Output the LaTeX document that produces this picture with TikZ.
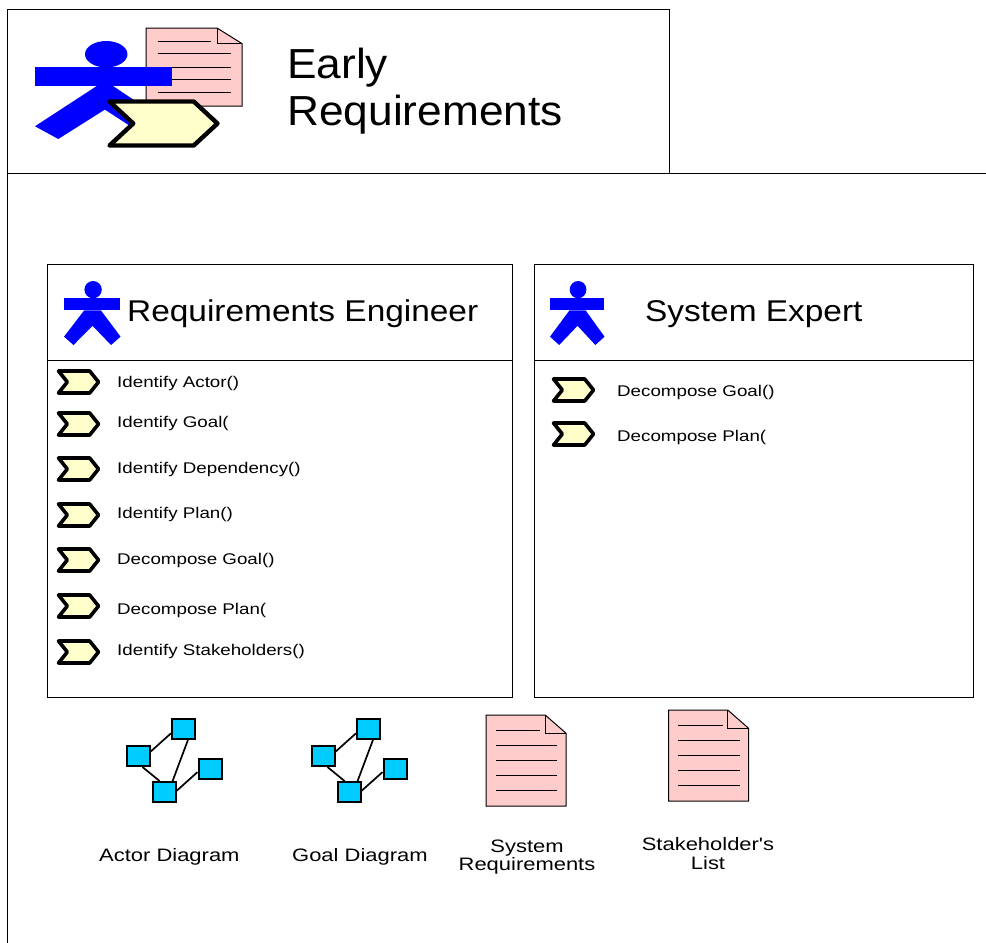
\documentclass[tikz,border=0pt]{standalone}
\usepackage{fontspec}
\setmainfont{Liberation Sans}
\newfontfamily\titlefont[FakeStretch=1.054]{Liberation Sans}
\newfontfamily\headfont[FakeStretch=1.114]{Liberation Sans}
\newfontfamily\itemfont[FakeStretch=1.21]{Liberation Sans}
\newfontfamily\labelfont[FakeStretch=1.22]{Liberation Sans}
\usetikzlibrary{positioning}
\definecolor{actorblue}{RGB}{0, 0, 255}
\definecolor{docpink}{RGB}{255, 204, 204}
\definecolor{planyellow}{RGB}{255, 255, 204}
\definecolor{nodecyan}{RGB}{0, 204, 255}
\tikzset{
  framed/.style={draw=black, line width=1pt},
  titletext/.style={anchor=base west, inner sep=0pt, font=\titlefont\fontsize{42}{46}\selectfont},
  headtext/.style={anchor=base west, inner sep=0pt, font=\headfont\fontsize{30}{34}\selectfont},
  itemtext/.style={anchor=base west, inner sep=0pt, font=\itemfont\fontsize{15.5}{18}\selectfont},
  labeltext/.style={anchor=base west, inner sep=0pt, font=\labelfont\fontsize{18}{18}\selectfont},
  centertext/.style={anchor=base, inner sep=0pt, font=\labelfont\fontsize{18}{18}\selectfont},
  netbox/.style={draw=black, line width=2pt, fill=nodecyan, minimum width=23pt, minimum height=20pt, inner sep=0pt},
  netline/.style={draw=black, line width=1.7pt},
  pics/actoricon/.style={code={
    \fill[actorblue] (0.52,0.135) ellipse [x radius=0.155, y radius=0.135];
    \fill[actorblue] (0,0.265) rectangle (1,0.46);
    \fill[actorblue] (#1,0.46) -- (0,0.87) -- (0.17,1) -- (0.51,0.7) -- (0.84,1) -- (1.01,0.87) -- ({1.02-#1},0.46) -- cycle;
  }},
  docicon/.pic={
    \draw[fill=docpink, line width=1pt] (0,0) -- (0.74,0) -- (1,0.2) -- (1,1) -- (0,1) -- cycle;
    \draw[line width=1pt] (0.74,0) -- (0.74,0.2) -- (1,0.2);
    \draw[line width=0.8pt] (0.12,0.17) -- (0.68,0.17);
    \foreach \y in {0.33,0.5,0.66,0.83} {
      \draw[line width=0.8pt] (0.12,\y) -- (0.89,\y);
    }
  },
  pics/planicon/.style={code={
    \draw[fill=planyellow, line width=#1, line join=round] (0,0) -- (0.78,0) -- (1,0.5) -- (0.78,1) -- (0,1) -- (0.22,0.5) -- cycle;
  }}
}
\newcommand{\netdiagram}[3]{
  \node[netbox] (#1a) at (#2,#3) {};
  \node[netbox] (#1b) at (#2+45.5,#3-27) {};
  \node[netbox] (#1c) at (#2+72,#3+12.5) {};
  \node[netbox] (#1d) at (#2+26,#3+36) {};
  \draw[netline] (#1a.19) -- (#1b.199);
  \draw[netline] (#1a.-68) -- (#1d.112);
  \draw[netline] (#1b.-68) -- (#1d.52);
  \draw[netline] (#1c.196) -- (#1d.5);
}
\begin{document}
\begin{tikzpicture}[x=1pt, y=-1pt]
  \useasboundingbox (0,0) rectangle (986,943);

  % Page frame
  \draw[framed] (7.5,173) -- (7.5,943);
  \draw[framed] (7.5,173) -- (986,173);
  \draw[framed] (7.5,9) rectangle (669,173);

  % Title
  \pic[xscale=96, yscale=78] at (146,28) {docicon};
  \pic[xscale=137, yscale=98] at (35,41) {actoricon=0.45};
  \pic[xscale=108, yscale=44] at (109.5,101.5) {planicon=4.4pt};
  \node[titletext] (early) at (287,78) {Early};
  \node[titletext] (requirements) at (287,125) {Requirements};

  % Requirements Engineer
  \draw[framed] (47,264) rectangle (512.5,697);
  \draw[framed] (47,360) -- (512.5,360);
  \pic[xscale=56, yscale=64] at (64,281) {actoricon=0.36};
  \node[headtext] (engineer) at (127,321) {Requirements Engineer};
  \foreach \y/\t/\n in {382/387/Identify Actor(),424/427/Identify Goal(,469/473/Identify Dependency(),515/518/Identify Plan(),560/564/Decompose Goal(),606/614/Decompose Plan(,652/655/Identify Stakeholders()} {
    \pic[xscale=40, yscale=22] at (58.5,\y-11) {planicon=3.6pt};
    \node[itemtext] (item\y) at (117,\t) {\n};
  }

  % System Expert
  \draw[framed] (534,264) rectangle (973,697);
  \draw[framed] (534,360) -- (973,360);
  \pic[xscale=54, yscale=64] at (550,281) {actoricon=0.36};
  \node[headtext] (expert) at (645,321) {System Expert};
  \foreach \y/\t/\n in {390/396/Decompose Goal(),434/441/Decompose Plan(} {
    \pic[xscale=40, yscale=22] at (553.5,\y-11) {planicon=3.6pt};
    \node[itemtext] (sysitem\y) at (617,\t) {\n};
  }

  % Diagrams
  \netdiagram{actor}{138}{756}
  \netdiagram{goal}{323}{756}
  \node[labeltext] (actorlabel) at (99,861) {Actor Diagram};
  \node[labeltext] (goallabel) at (292,861) {Goal Diagram};

  % Documents
  \pic[xscale=80, yscale=91] at (486,715) {docicon};
  \pic[xscale=80, yscale=91] at (668.5,710) {docicon};
  \node[centertext] (sysline) at (527,852) {System};
  \node[centertext] (reqline) at (527,870) {Requirements};
  \node[centertext] (stakeline) at (708,850) {Stakeholder's};
  \node[centertext] (listline) at (708,869) {List};
\end{tikzpicture}
\end{document}
